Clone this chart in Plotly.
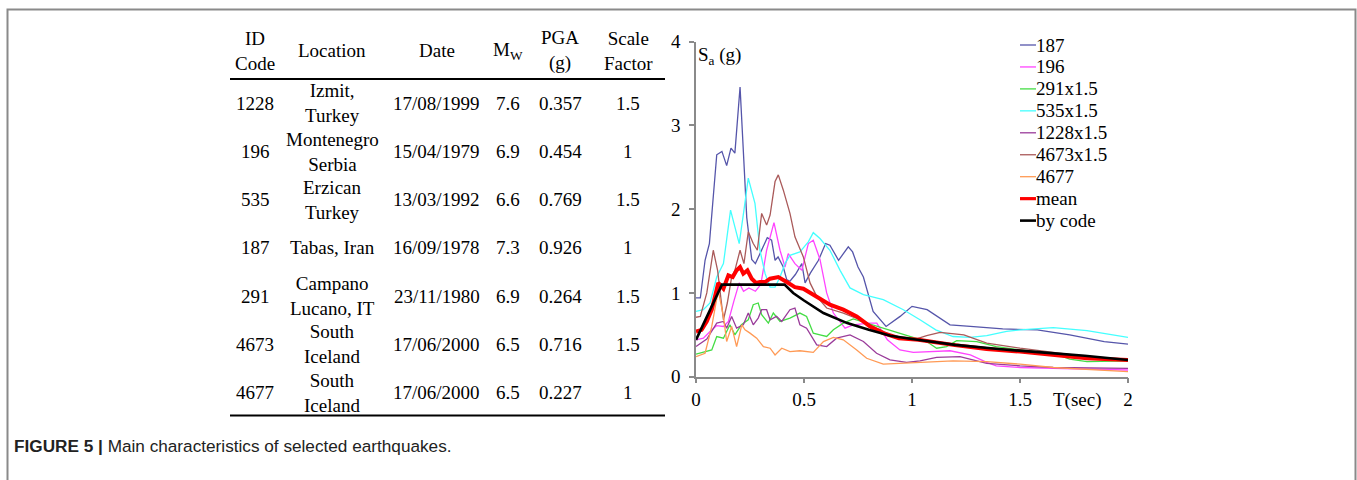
import plotly.graph_objects as go

# ---------------- data ----------------
# table
table_header = ["ID<br>Code", "Location", "Date", "M<sub>W</sub>", "PGA<br>(g)", "Scale<br>Factor"]
eq_ids = ["1228", "196", "535", "187", "291", "4673", "4677"]
eq_locations = ["Izmit,<br>Turkey", "Montenegro<br>Serbia", "Erzican<br>Turkey", "Tabas, Iran",
                "Campano<br>Lucano, IT", "South<br>Iceland", "South<br>Iceland"]
eq_dates = ["17/08/1999", "15/04/1979", "13/03/1992", "16/09/1978", "23/11/1980", "17/06/2000", "17/06/2000"]
eq_mw = ["7.6", "6.9", "6.6", "7.3", "6.9", "6.5", "6.5"]
eq_pga = ["0.357", "0.454", "0.769", "0.926", "0.264", "0.716", "0.227"]
eq_scale = ["1.5", "1", "1.5", "1", "1.5", "1.5", "1"]

# spectra (T in sec, Sa in g)
t_187 = [0, 0.02, 0.042, 0.062, 0.096, 0.12, 0.142, 0.162, 0.18, 0.204, 0.235, 0.258, 0.275, 0.29, 0.33, 0.35,
         0.366, 0.38, 0.404, 0.42, 0.435, 0.46, 0.49, 0.505, 0.53, 0.567, 0.60, 0.62, 0.66, 0.705, 0.725, 0.75,
         0.775, 0.82, 0.88, 0.945, 1.0, 1.07, 1.176, 1.27, 1.42, 1.58, 1.73, 1.89, 2.0]
sa_187 = [0.94, 0.94, 1.39, 1.59, 2.65, 2.69, 2.52, 2.73, 2.67, 3.46, 1.9, 1.40, 1.35, 1.43, 1.66, 1.63,
          1.39, 1.43, 1.31, 1.16, 1.14, 1.22, 1.35, 1.12, 1.24, 1.39, 1.59, 1.57, 1.39, 1.55, 1.49, 1.31,
          1.19, 0.78, 0.60, 0.72, 0.84, 0.80, 0.62, 0.60, 0.57, 0.56, 0.50, 0.42, 0.39]

t_196 = [0, 0.034, 0.065, 0.096, 0.127, 0.15, 0.175, 0.2, 0.22, 0.245, 0.275, 0.3, 0.327, 0.361, 0.389,
         0.412, 0.427, 0.458, 0.49, 0.52, 0.543, 0.574, 0.605, 0.636, 0.69, 0.728, 0.80, 0.837, 0.886, 0.944,
         1.006, 1.083, 1.176, 1.27, 1.346, 1.39, 1.5, 1.654, 2.0]
sa_196 = [0.44, 0.46, 0.54, 0.61, 0.60, 0.66, 0.90, 1.12, 1.02, 1.06, 1.02, 1.10, 1.51, 1.84, 1.51,
          1.31, 1.47, 1.35, 1.27, 1.59, 1.63, 1.40, 1.0, 0.76, 0.58, 0.62, 0.64, 0.64, 0.44, 0.32,
          0.29, 0.30, 0.31, 0.26, 0.17, 0.13, 0.11, 0.10, 0.08]

t_291 = [0, 0.034, 0.073, 0.096, 0.127, 0.157, 0.18, 0.21, 0.242, 0.265, 0.288, 0.304, 0.335, 0.358, 0.389,
         0.435, 0.481, 0.512, 0.543, 0.574, 0.605, 0.636, 0.682, 0.728, 0.79, 0.886, 0.99, 1.068, 1.114, 1.16,
         1.207, 1.3, 1.39, 1.5, 1.654, 1.73, 1.81, 2.0]
sa_291 = [0.27, 0.29, 0.32, 0.48, 0.46, 0.62, 0.50, 0.62, 0.68, 0.86, 0.88, 0.74, 0.64, 0.76, 0.66,
          0.70, 0.76, 0.72, 0.52, 0.50, 0.48, 0.56, 0.64, 0.69, 0.64, 0.56, 0.48, 0.42, 0.34, 0.36,
          0.43, 0.42, 0.36, 0.32, 0.28, 0.21, 0.18, 0.19]

t_535 = [0, 0.034, 0.065, 0.096, 0.127, 0.16, 0.18, 0.2, 0.222, 0.242, 0.273, 0.296, 0.32, 0.343, 0.366,
         0.389, 0.412, 0.435, 0.481, 0.52, 0.543, 0.574, 0.62, 0.667, 0.713, 0.775, 0.867, 0.96, 1.037, 1.11,
         1.19, 1.27, 1.346, 1.438, 1.5, 1.654, 1.81, 2.0]
sa_535 = [0.78, 0.80, 0.88, 1.19, 1.35, 1.99, 1.79, 1.59, 1.99, 2.37, 2.07, 1.51, 1.23, 1.07, 1.07,
          1.19, 1.35, 1.45, 1.49, 1.61, 1.72, 1.65, 1.51, 1.27, 1.06, 0.98, 0.92, 0.80, 0.68, 0.56,
          0.48, 0.47, 0.49, 0.54, 0.56, 0.585, 0.55, 0.47]

t_1228 = [0, 0.05, 0.096, 0.127, 0.142, 0.165, 0.188, 0.219, 0.242, 0.265, 0.288, 0.304, 0.327, 0.343,
          0.373, 0.397, 0.435, 0.458, 0.481, 0.512, 0.559, 0.605, 0.651, 0.713, 0.775, 0.836, 0.898, 0.975,
          1.037, 1.114, 1.222, 1.346, 1.5, 1.654, 2.0]
sa_1228 = [0.36, 0.45, 0.64, 0.66, 0.58, 0.72, 0.58, 0.62, 0.76, 0.62, 0.70, 0.80, 0.80, 0.68,
           0.72, 0.66, 0.80, 0.82, 0.62, 0.58, 0.38, 0.36, 0.46, 0.50, 0.42, 0.28, 0.20, 0.17,
           0.19, 0.23, 0.24, 0.16, 0.13, 0.11, 0.10]

t_4673 = [0, 0.02, 0.05, 0.08, 0.10, 0.127, 0.145, 0.165, 0.18, 0.204, 0.222, 0.242, 0.265, 0.284, 0.304,
          0.327, 0.343, 0.366, 0.381, 0.404, 0.435, 0.458, 0.497, 0.528, 0.559, 0.605, 0.682, 0.759, 0.836,
          0.929, 1.006, 1.068, 1.13, 1.24, 1.346, 1.5, 1.654, 1.81, 2.0]
sa_4673 = [0.71, 0.72, 1.0, 1.51, 1.27, 0.68, 0.88, 1.19, 1.27, 1.51, 1.35, 1.73, 1.59, 1.51, 1.95,
           1.81, 1.93, 2.33, 2.41, 2.23, 1.95, 1.67, 1.43, 1.12, 0.96, 0.82, 0.76, 0.68, 0.58,
           0.46, 0.44, 0.49, 0.53, 0.50, 0.40, 0.34, 0.29, 0.24, 0.20]

t_4677 = [0, 0.042, 0.073, 0.103, 0.127, 0.142, 0.165, 0.188, 0.212, 0.227, 0.25, 0.281, 0.312, 0.343,
          0.366, 0.397, 0.435, 0.481, 0.543, 0.59, 0.636, 0.682, 0.744, 0.79, 0.867, 0.944, 1.037, 1.19,
          1.346, 1.5, 1.654, 1.81, 2.0]
sa_4677 = [0.24, 0.28, 0.60, 1.03, 0.72, 0.42, 0.60, 0.36, 0.62, 0.56, 0.52, 0.46, 0.36, 0.34,
           0.26, 0.34, 0.30, 0.31, 0.29, 0.42, 0.47, 0.44, 0.32, 0.22, 0.15, 0.16, 0.17, 0.19,
           0.18, 0.15, 0.11, 0.09, 0.06]

t_mean = [0, 0.026, 0.05, 0.073, 0.103, 0.127, 0.15, 0.17, 0.188, 0.204, 0.219, 0.238, 0.258, 0.278,
          0.296, 0.32, 0.343, 0.381, 0.42, 0.458, 0.497, 0.559, 0.62, 0.682, 0.744, 0.806, 0.867, 0.94,
          1.03, 1.19, 1.345, 1.5, 1.65, 1.81, 2.0]
sa_mean = [0.54, 0.56, 0.66, 0.80, 1.12, 1.05, 1.21, 1.19, 1.27, 1.31, 1.23, 1.27, 1.17, 1.12,
           1.13, 1.13, 1.17, 1.19, 1.13, 1.07, 1.05, 0.96, 0.86, 0.80, 0.72, 0.60, 0.52, 0.46,
           0.44, 0.38, 0.33, 0.30, 0.26, 0.22, 0.20]

t_code = [0, 0.12, 0.41, 0.45, 0.5, 0.59, 0.7, 0.8, 0.9, 1.0, 1.2, 1.4, 1.6, 1.8, 2.0]
sa_code = [0.44, 1.10, 1.10, 1.0, 0.91, 0.76, 0.64, 0.56, 0.49, 0.45, 0.38, 0.33, 0.29, 0.25, 0.20]

series_names = ["187", "196", "291x1.5", "535x1.5", "1228x1.5", "4673x1.5", "4677", "mean", "by code"]
series_t = [t_187, t_196, t_291, t_535, t_1228, t_4673, t_4677, t_mean, t_code]
series_sa = [sa_187, sa_196, sa_291, sa_535, sa_1228, sa_4673, sa_4677, sa_mean, sa_code]

x_ticks = [0, 0.5, 1, 1.5, 2]
x_tick_labels = ["0", "0.5", "1", "1.5", "2"]
y_ticks = [0, 1, 2, 3, 4]
y_tick_labels = ["0", "1", "2", "3", "4"]

# ---------------- styles / layout ----------------
W, H = 1357, 480
SERIF = "Liberation Serif, Times New Roman, serif"
SANS = "Liberation Sans, Arial, sans-serif"
series_colors = ["#5555aa", "#ff44ff", "#44dd44", "#44ffff", "#9a3c9a", "#aa5a5a", "#ff9a55", "#ff0000", "#000000"]
series_widths = [1.3, 1.3, 1.3, 1.3, 1.3, 1.3, 1.3, 4.0, 2.6]


def px(x):
    return x / W


def py(y):
    return 1 - y / H


plot_left, plot_right, plot_top, plot_bottom = 696, 1128, 41.7, 376.7

fig = go.Figure()
for name, t, sa, c, w in zip(series_names, series_t, series_sa, series_colors, series_widths):
    fig.add_trace(go.Scatter(x=t, y=sa, mode="lines", name=name,
                             line=dict(color=c, width=w), showlegend=False, hoverinfo="skip"))

annotations = []
shapes = []

# manual legend
leg_x0, leg_x1, leg_y0, leg_dy = 1020, 1036, 45, 21.95
for i, (name, c, w) in enumerate(zip(series_names, series_colors, series_widths)):
    yy = leg_y0 + i * leg_dy
    shapes.append(dict(type="line", xref="paper", yref="paper", x0=px(leg_x0), x1=px(leg_x1),
                       y0=py(yy), y1=py(yy), line=dict(color=c, width=min(w, 3.2))))
    annotations.append(dict(xref="paper", yref="paper", x=px(leg_x1 - 2), y=py(yy), text=name,
                            showarrow=False, xanchor="left", yanchor="middle",
                            font=dict(family=SERIF, size=19, color="black")))

# axis labels
annotations.append(dict(xref="paper", yref="paper", x=px(696), y=py(56), text="S<sub>a</sub> (g)",
                        showarrow=False, xanchor="left", yanchor="middle",
                        font=dict(family=SERIF, size=19, color="black")))
annotations.append(dict(xref="paper", yref="paper", x=px(1077), y=py(400), text="T(sec)",
                        showarrow=False, xanchor="center", yanchor="middle",
                        font=dict(family=SERIF, size=19, color="black")))

# table
col_x = [255, 332, 437, 508, 560, 628]
header_y = 50.5
row_y0, row_dy = 103.3, 48.23
for j, h in enumerate(table_header):
    annotations.append(dict(xref="paper", yref="paper", x=px(col_x[j]), y=py(header_y), text=h,
                            showarrow=False, xanchor="center", yanchor="middle",
                            font=dict(family=SERIF, size=19, color="black")))
columns = [eq_ids, eq_locations, eq_dates, eq_mw, eq_pga, eq_scale]
for j, col in enumerate(columns):
    for i, val in enumerate(col):
        annotations.append(dict(xref="paper", yref="paper", x=px(col_x[j]), y=py(row_y0 + i * row_dy),
                                text=val, showarrow=False, xanchor="center", yanchor="middle",
                                font=dict(family=SERIF, size=19, color="black")))
for yy in (79, 415.5):
    shapes.append(dict(type="line", xref="paper", yref="paper", x0=px(230), x1=px(665),
                       y0=py(yy), y1=py(yy), line=dict(color="black", width=2)))

# caption
annotations.append(dict(xref="paper", yref="paper", x=px(12), y=py(446),
                        text="<b>FIGURE 5 |</b> Main characteristics of selected earthquakes.",
                        showarrow=False, xanchor="left", yanchor="middle",
                        font=dict(family=SANS, size=17.2, color="#222222")))

# frame border
shapes.append(dict(type="path", xref="paper", yref="paper",
                   path=f"M {px(7.5)},{py(482)} L {px(7.5)},{py(9.5)} L {px(1355.5)},{py(9.5)} L {px(1355.5)},{py(482)}",
                   line=dict(color="#8a8a8a", width=2)))

axis_common = dict(showgrid=False, zeroline=False, showline=True, linecolor="#8a8a8a", linewidth=1.5,
                   ticks="outside", ticklen=5, tickcolor="#8a8a8a", tickwidth=1.5, automargin=False,
                   tickfont=dict(family=SERIF, size=19, color="black"))

fig.update_layout(
    width=W, height=H, autosize=False,
    margin=dict(l=0, r=0, t=0, b=0, pad=0, autoexpand=False),
    paper_bgcolor="white", plot_bgcolor="white",
    showlegend=False,
    xaxis=dict(domain=[px(plot_left), px(plot_right)], range=[0, 2], tickmode="array",
               tickvals=x_ticks, ticktext=x_tick_labels, **axis_common),
    yaxis=dict(domain=[py(plot_bottom), py(plot_top)], range=[0, 4], tickmode="array",
               tickvals=y_ticks, ticktext=y_tick_labels, ticklabelstandoff=5, **axis_common),
    annotations=annotations,
    shapes=shapes,
)

fig.write_html(
    "out.html",
    config={"responsive": False},
    post_script="document.body.style.margin='0';document.body.style.padding='0';"
                "document.body.style.overflow='hidden';",
)
